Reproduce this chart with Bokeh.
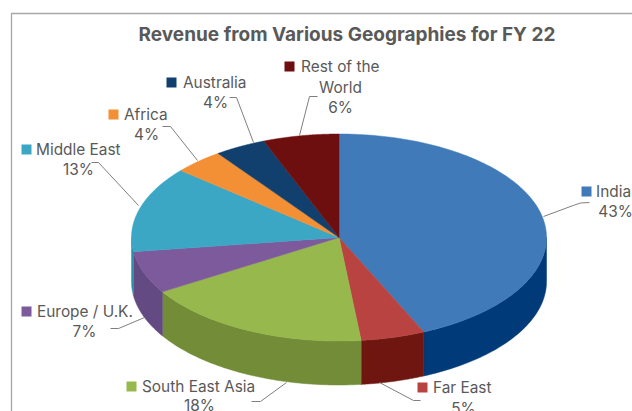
import math
from bokeh.plotting import figure
from bokeh.models import Range1d
from bokeh.core.properties import value
from bokeh.embed import file_html
from bokeh.resources import INLINE

# ---- data ----
categories = ["India", "Far East", "South East Asia", "Europe / U.K.", "Middle East", "Africa", "Australia", "Rest of the World"]
shares = [43.3, 5.0, 17.9, 6.6, 13.4, 3.9, 4.0, 5.9]
title_text = "Revenue from Various Geographies for FY 22"

# ---- style ----
top_colors = ["#407ab8", "#b94341", "#97b84d", "#7c5a9c", "#3ba7c4", "#f39035", "#12406e", "#6e0f0f"]
side_colors = ["#003a78", "#6f1610", "#728c38", "#644a82", "#2f8ea8", "#c06f20", "#0d3054", "#500a0a"]
CX, CY, RX, RY, DEPTH = 338.5, 237, 207.5, 103.5, 44
FONT = "Inter"
TXT = "#595959"
FS = "15.4px"

# name -> swatch left, swatch centre y, text left, extra lines, percent x, percent y, leader
label_layout = {
    "India": (581, 191, 595.5, [], 615, 210.5, [(543, 216), (574, 204.5), (580, 202.5), (589, 202)]),
    "Far East": (417, 387, 432.5, [], 463, 407.5, [(379, 382), (413, 400), (420, 400)]),
    "South East Asia": (126, 386, 141.5, [], 199, 404.5, [(286, 382), (260, 401), (251, 401)]),
    "Europe / U.K.": (21, 311, 36.5, [], 84, 330.5, [(144, 317), (118, 328), (110, 328)]),
    "Middle East": (21, 149, 35.5, [], 78, 168.5, [(138, 205), (98, 162), (91, 162)]),
    "Africa": (108, 114, 123.5, [], 146, 133.5, [(197, 160), (170, 126), (162, 126)]),
    "Australia": (166, 82, 182.5, [], 215, 101.5, [(253, 142), (236, 97), (229, 97)]),
    "Rest of the World": (284, 66, 300.5, [("World", 340, 86.5)], 340, 106.5, [(299, 135), (309, 96), (317, 96)]),
}

p = figure(width=632, height=411, output_backend="svg", toolbar_location=None,
           x_range=Range1d(0, 632), y_range=Range1d(411, 0),
           min_border=0, outline_line_color=None, background_fill_color="white")
p.axis.visible = False
p.grid.visible = False

# frame
p.line([11, 11, 632], [411, 13, 13], line_color="#a6a6a6", line_width=1.3)

def pt(t, dy=0.0):
    return CX + RX * math.sin(t), CY - RY * math.cos(t) + dy

total = sum(shares)
edges = [0.0]
for v in shares:
    edges.append(edges[-1] + v / total * 2 * math.pi)

# side walls (only the front half of the rim)
for i in range(len(shares)):
    a, b = max(edges[i], math.pi / 2), min(edges[i + 1], 3 * math.pi / 2)
    if b <= a:
        continue
    n = 60
    ts = [a + (b - a) * k / n for k in range(n + 1)]
    upper = [pt(t) for t in ts]
    lower = [pt(t, DEPTH) for t in reversed(ts)]
    pts = upper + lower
    p.patch([q[0] for q in pts], [q[1] for q in pts], fill_color=side_colors[i], line_color=side_colors[i], line_width=0.5)

# top face
for i in range(len(shares)):
    a, b = edges[i], edges[i + 1]
    n = 120
    pts = [(CX, CY)] + [pt(a + (b - a) * k / n) for k in range(n + 1)]
    p.patch([q[0] for q in pts], [q[1] for q in pts], fill_color=top_colors[i], line_color=top_colors[i], line_width=0.5)

# title
p.text([346.5], [34], text=[title_text], text_font=value(FONT), text_font_size="19px", text_font_style="bold",
       text_color=TXT, text_align="center", text_baseline="middle")

# labels
for i, name in enumerate(categories):
    sx, sy, tx, extra, pcx, pcy, leader = label_layout[name]
    first = "Rest of the" if name == "Rest of the World" else name
    p.line([q[0] for q in leader], [q[1] for q in leader], line_color="#7f7f7f", line_width=1)
    p.quad(left=[sx], right=[sx + 10], top=[sy - 5], bottom=[sy + 5], fill_color=top_colors[i], line_color=None)
    p.text([tx], [sy], text=[first], text_font=value(FONT), text_font_size=FS, text_color=TXT,
           text_align="left", text_baseline="middle")
    for (t, x, y) in extra:
        p.text([x], [y], text=[t], text_font=value(FONT), text_font_size=FS, text_color=TXT,
               text_align="center", text_baseline="middle")
    p.text([pcx], [pcy], text=[f"{round(shares[i])}%"], text_font=value(FONT), text_font_size=FS, text_color=TXT,
           text_align="center", text_baseline="middle")

open("out.html", "w").write(file_html(p, INLINE))
